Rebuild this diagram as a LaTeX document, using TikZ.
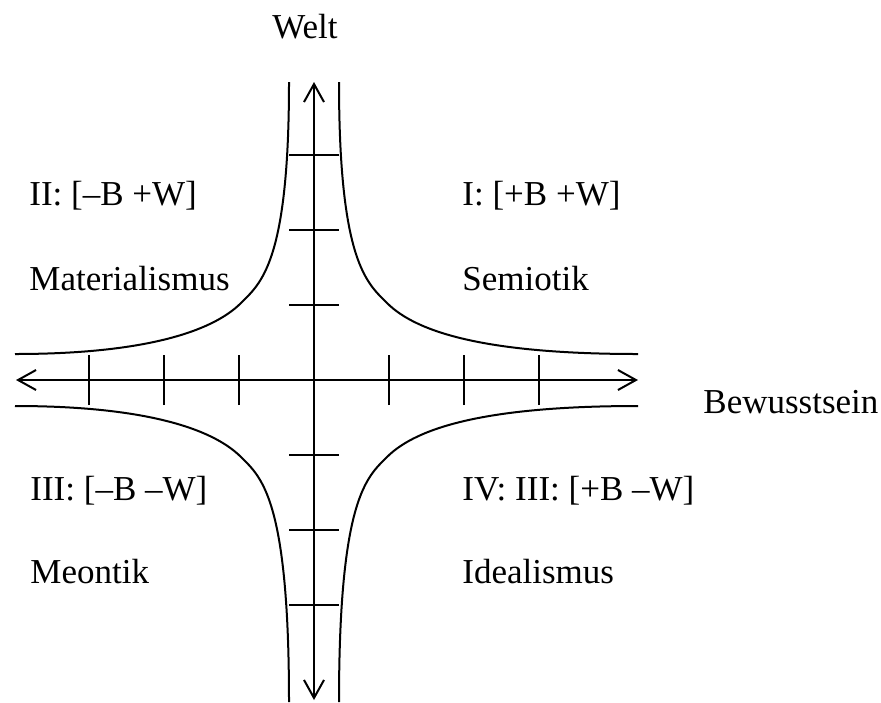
\documentclass[tikz,border=0pt]{standalone}
\usepackage{fontspec}
\setmainfont{Liberation Serif}
\usetikzlibrary{arrows.meta}

% one branch of the curves, arms #1 (horizontal) and #2 (vertical)
\newcommand{\branch}[2]{%
  \draw[curve] (25,#2) .. controls (25,118) and (53,97) .. (73,77)
    .. controls (103,47) and (174,26) .. (#1,26);}

\begin{document}
\begin{tikzpicture}[x=0.5pt,y=-0.5pt,
    barb/.tip={Straight Barb[length=9pt,width=10pt]},
    axis/.style={line width=1pt,barb-barb},
    curve/.style={line width=1pt},
    tickmark/.style={line width=1pt},
    txt/.style={anchor=base west,inner sep=0pt,font=\fontsize{17.5}{21}\selectfont}]
  \useasboundingbox (0,0) rectangle (881,702);

  % axes
  \coordinate (O) at (314,380);
  \coordinate (W) at (16,380);
  \coordinate (E) at (638,380);
  \coordinate (N) at (314,82);
  \coordinate (S) at (314,700);
  \draw[axis] (W) -- (E);
  \draw[axis] (S) -- (N);

  \begin{scope}[shift={(O)},yscale=-1]
    \foreach \t in {-225,-150,-75,75,150,225}{
      \draw[tickmark] (\t,-25) -- (\t,25);
      \draw[tickmark] (-25,\t) -- (25,\t);
    }
    \branch{324}{298}
    \begin{scope}[xscale=-1]
      \branch{299}{298}
    \end{scope}
    \begin{scope}[yscale=-1]
      \branch{324}{322}
    \end{scope}
    \begin{scope}[xscale=-1,yscale=-1]
      \branch{299}{322}
    \end{scope}
  \end{scope}

  % labels
  \node[txt,anchor=base] (welt) at (305,38) {Welt};
  \node[txt] (bew) at (703,413) {Bewusstsein};
  \node[txt] (q1) at (462,205) {I: [+B +W]};
  \node[txt] (q1n) at (462,290) {Semiotik};
  \node[txt] (q2) at (29,205) {II: [--B +W]};
  \node[txt] (q2n) at (29,290) {Materialismus};
  \node[txt] (q3) at (30,500) {III: [--B --W]};
  \node[txt] (q3n) at (30,583) {Meontik};
  \node[txt] (q4) at (462,500) {IV: III: [+B --W]};
  \node[txt] (q4n) at (462,583) {Idealismus};
\end{tikzpicture}
\end{document}
